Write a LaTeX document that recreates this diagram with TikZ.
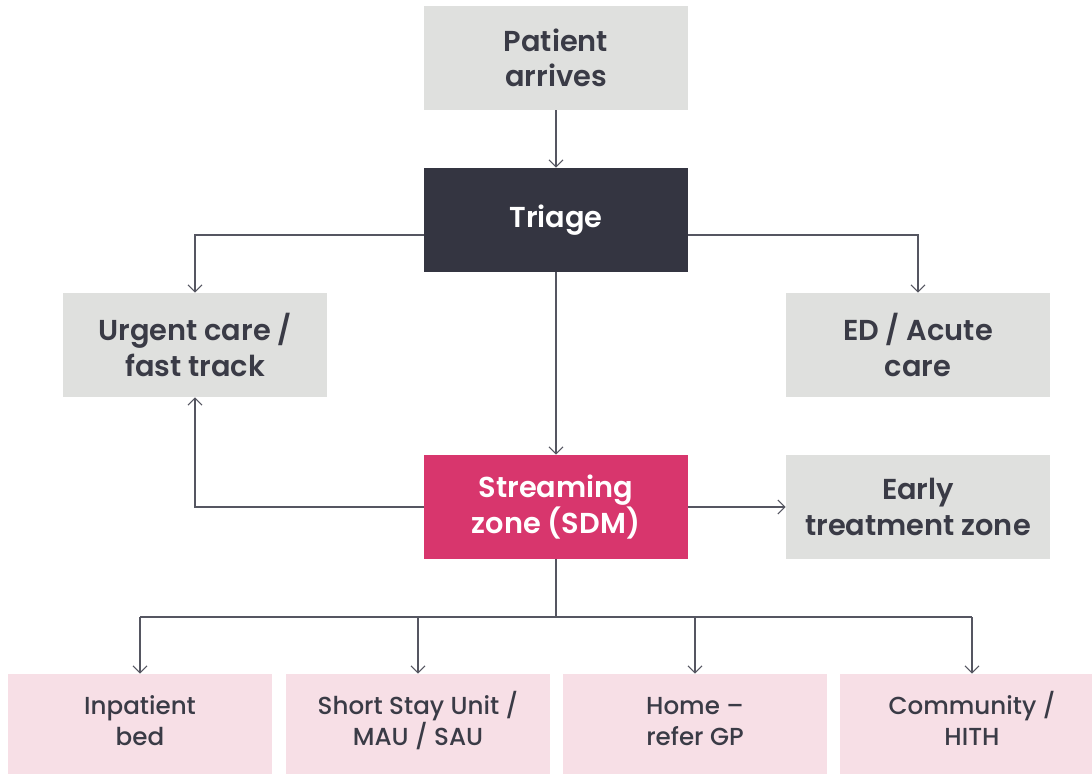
\documentclass[tikz,border=0pt]{standalone}
\usepackage{fontspec}
\setmainfont{Poppins}[BoldFont={Poppins SemiBold}]
\newfontfamily\mediumfont{Poppins Medium}[Ligatures=TeX]
\usepackage{tikz}
\usetikzlibrary{arrows.meta}

\newcommand\tightlines{\lineskiplimit=-20pt\relax}

\definecolor{boxgrey}{HTML}{DFE0DE}
\definecolor{boxdark}{HTML}{343541}
\definecolor{boxpink}{HTML}{D8366D}
\definecolor{boxlight}{HTML}{F7DFE6}
\definecolor{txtdark}{HTML}{3A3B46}
\definecolor{linegrey}{HTML}{555661}

\tikzset{
  stagebox/.style={rectangle, minimum width=6.6cm, minimum height=2.6cm, align=center,
    inner sep=0pt, font=\fontsize{20.5}{25}\selectfont\bfseries\tightlines},
  greybox/.style={stagebox, fill=boxgrey, text=txtdark},
  darkbox/.style={stagebox, fill=boxdark, text=white},
  pinkbox/.style={stagebox, fill=boxpink, text=white},
  outbox/.style={rectangle, minimum width=6.6cm, minimum height=2.5cm, align=center,
    inner sep=0pt, fill=boxlight, text=txtdark, text height=34.5pt, text depth=4pt,
    font=\mediumfont\fontsize{17.5}{22}\selectfont\tightlines},
  link/.style={draw=linegrey, line width=0.8pt, -{Straight Barb[length=5pt, width=10pt]}},
  plain/.style={draw=linegrey, line width=0.8pt}
}

\begin{document}
\begin{tikzpicture}[x=0.025cm, y=-0.025cm]
  \useasboundingbox (0, 0) rectangle (1092, 775);

  % Etapas principais
  \node[greybox] (arrive) at (556, 58) {Patient\\arrives};
  \node[darkbox] (triage) at (556, 220) {Triage};
  \node[greybox] (urgent) at (195, 345) {Urgent care /\\fast track};
  \node[greybox] (acute) at (918, 345) {ED / Acute\\care};
  \node[pinkbox] (stream) at (556, 507) {Streaming\\zone (SDM)};
  \node[greybox] (early) at (918, 507) {Early\\treatment zone};

  % Destinos
  \node[outbox] (bed) at (140, 724) {Inpatient\\bed};
  \node[outbox] (ssu) at (418, 724) {Short Stay Unit /\\MAU / SAU};
  \node[outbox] (home) at (695, 724) {Home –\\refer GP};
  \node[outbox] (comm) at (972, 724) {Community /\\HITH};

  % Linhas e setas
  \draw[link] (arrive) -- (triage);
  \draw[link] (triage.west |- 0, 235) -| (urgent.north);
  \draw[link] (triage.east |- 0, 235) -| (acute.north);
  \draw[link] (triage) -- (stream);
  \draw[link] (stream.west) -| (urgent.south);
  \draw[link] (stream.east) -- (early.west);

  \coordinate (split) at (556, 617);
  \draw[plain] (stream.south) -- (split);
  \draw[plain] (bed.north |- split) -- (comm.north |- split);
  \draw[link] (bed.north |- split) -- (bed.north);
  \draw[link] (ssu.north |- split) -- (ssu.north);
  \draw[link] (home.north |- split) -- (home.north);
  \draw[link] (comm.north |- split) -- (comm.north);
\end{tikzpicture}
\end{document}
